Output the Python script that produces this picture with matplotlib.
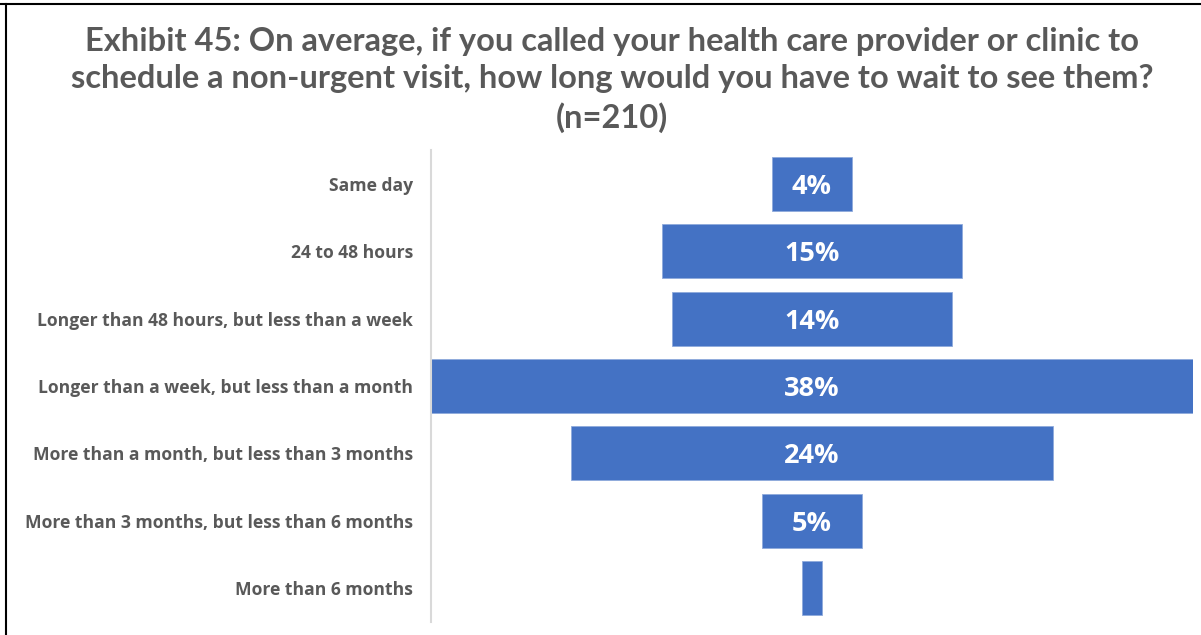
import matplotlib
matplotlib.use("Agg")
import matplotlib.pyplot as plt
from matplotlib.lines import Line2D

categories = [
    "Same day",
    "24 to 48 hours",
    "Longer than 48 hours, but less than a week",
    "Longer than a week, but less than a month",
    "More than a month, but less than 3 months",
    "More than 3 months, but less than 6 months",
    "More than 6 months",
]
values = [4, 15, 14, 38, 24, 5, 1]
title = ("Exhibit 45: On average, if you called your health care provider or clinic to\n"
         "schedule a non-urgent visit, how long would you have to wait to see them?\n"
         "(n=210)")

BAR = "#4472C4"
GRAY = "#595959"

fig = plt.figure(figsize=(12.01, 6.35), dpi=100)
ax = fig.add_axes([431/1201, 1 - 622/635, (1193 - 431)/1201, (622 - 150)/635])

ys = list(range(len(categories)))
lefts = [-v / 2 for v in values]
ax.barh(ys, values, left=lefts, height=0.8, color=BAR, edgecolor="#8FAADC", linewidth=0.6)
for y, v in zip(ys, values):
    if v >= 2:
        ax.text(0, y, f"{v}%", ha="center", va="center_baseline", color="white",
                fontsize=19.5, fontweight="bold", family="Open Sans")

ax.set_xlim(-19, 19)
ax.set_ylim(len(categories) - 0.5, -0.5)
ax.set_yticks(ys)
ax.set_yticklabels(categories, fontsize=12.6, fontweight="bold", color=GRAY, family="Open Sans")
ax.tick_params(axis="y", length=0, pad=13)
ax.set_xticks([])
for s in ["top", "right", "bottom"]:
    ax.spines[s].set_visible(False)
ax.spines["left"].set_color("#D9D9D9")
ax.spines["left"].set_linewidth(1.5)

fig.text(612/1201, 1 - 80/635, title, ha="center", va="center", fontsize=23.5,
         fontweight="bold", color=GRAY, family="Lato", linespacing=1.34)

fig.add_artist(Line2D([0, 1], [1 - 4/635, 1 - 4/635], color="black", linewidth=1.5,
                      transform=fig.transFigure))
fig.add_artist(Line2D([6/1201, 6/1201], [0, 1 - 4/635], color="black", linewidth=1.5,
                      transform=fig.transFigure))

fig.savefig("out.png", dpi=100)
